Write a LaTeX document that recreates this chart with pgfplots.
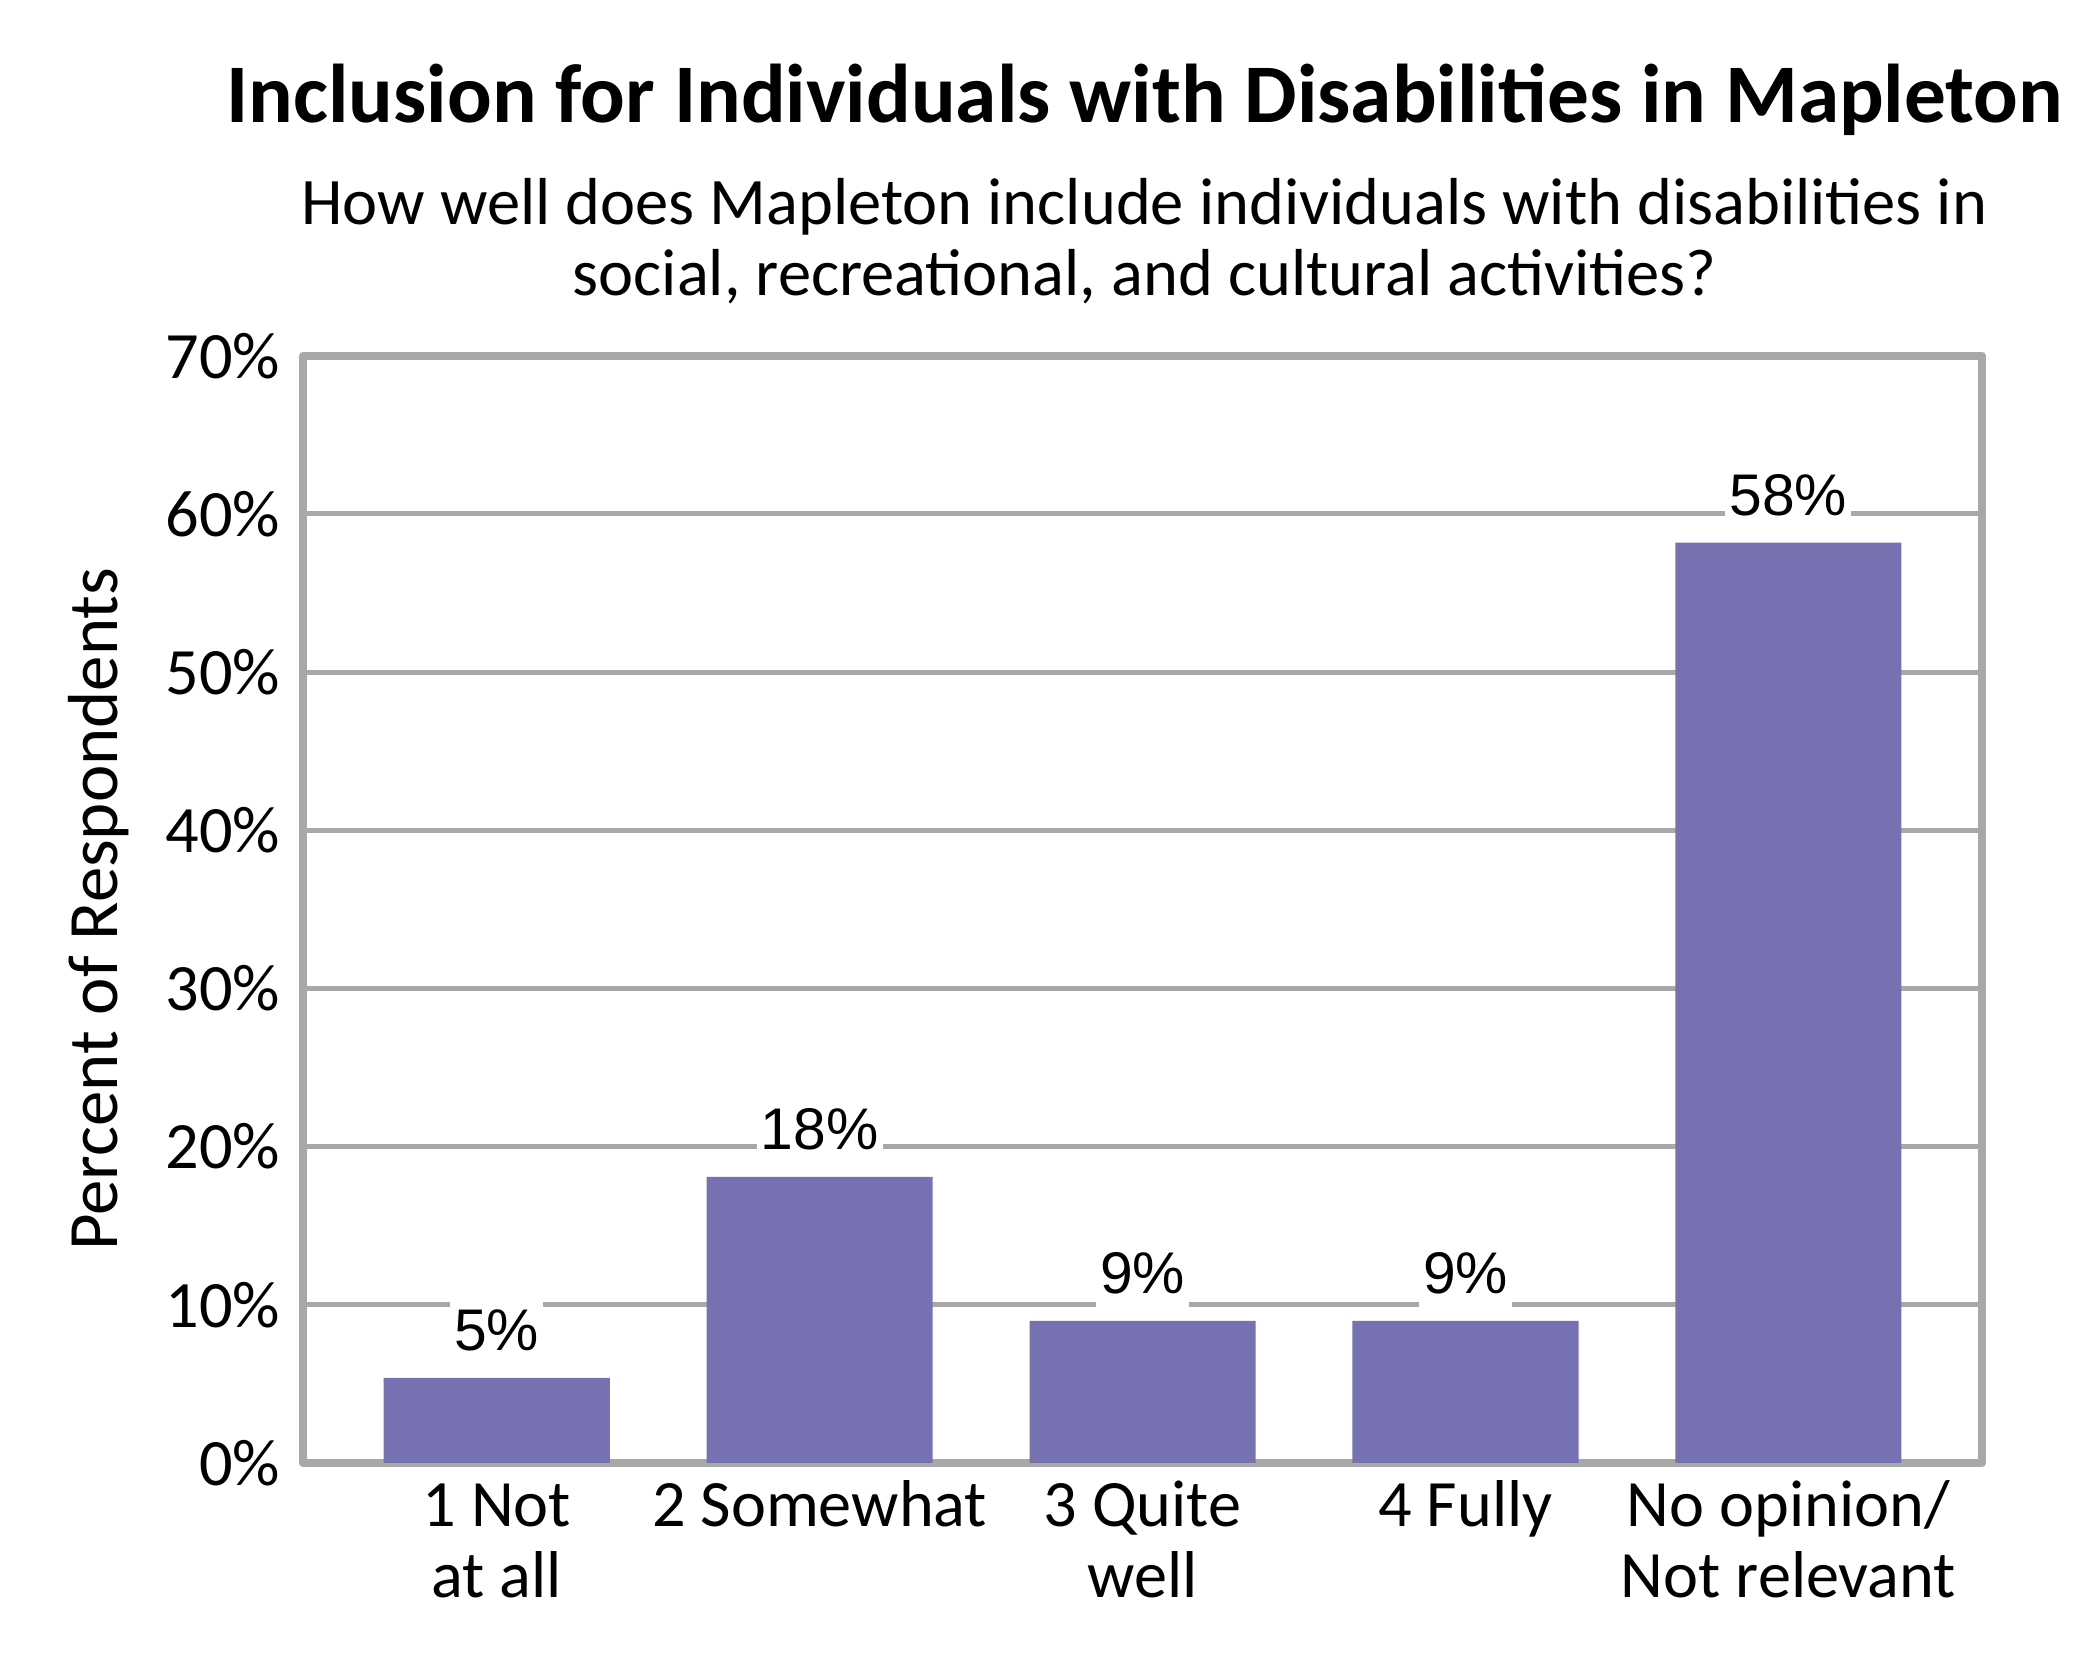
\documentclass[border=0pt]{standalone}
\usepackage{fontspec}
\setmainfont{Carlito}
\newfontfamily\labelfont{Liberation Sans}
\usepackage{pgfplots}
\pgfplotsset{compat=1.18}
\definecolor{barc}{RGB}{118,114,178}
\definecolor{gridc}{RGB}{168,168,168}
\begin{document}
\begin{tikzpicture}
\useasboundingbox (-72.72pt,-52.1pt) rectangle (431.28pt,351.1pt);
\begin{axis}[
  at={(0,0)}, anchor=south west,
  scale only axis, width=403pt, height=265.7pt,
  xmin=-0.6, xmax=4.6, ymin=0, ymax=70,
  ytick={0,10,20,30,40,50,60,70},
  yticklabels={0\%,10\%,20\%,30\%,40\%,50\%,60\%,70\%},
  xtick={0,1,2,3,4},
  xticklabels={{\rule{0pt}{12pt}1 Not\\at all},{\rule{0pt}{12pt}2 Somewhat},{\rule{0pt}{12pt}3 Quite\\well},{\rule{0pt}{12pt}4 Fully},{\rule{0pt}{12pt}No opinion/\\Not relevant}},
  major tick length=0pt,
  ymajorgrids, grid style={gridc, line width=1.2pt},
  axis line style={gridc, line width=2pt, line join=round},
  tick label style={font=\fontsize{15.9}{17}\selectfont},
  yticklabel style={anchor=east, inner sep=0pt, xshift=-5.3pt},
  xticklabel style={anchor=north, inner sep=0pt, yshift=-3pt, align=center},
  ylabel={Percent of Respondents},
  ylabel style={font=\fontsize{17}{19}\selectfont, at={(axis description cs:-0.1107,0.5)}, anchor=base},
  ybar, bar width=0.7,
  point meta=explicit symbolic,
  nodes near coords,
  nodes near coords style={font=\labelfont\fontsize{14.1}{16}\selectfont, fill=white, inner xsep=1pt, inner ysep=3.2pt, anchor=south, yshift=3pt, text=black},
]
\addplot[fill=barc, draw=none] coordinates {(0,5.38) [5\%] (1,18.09) [18\%] (2,8.98) [9\%] (3,8.98) [9\%] (4,58.19) [58\%]};
\end{axis}
\node[font=\bfseries\fontsize{20}{24}\selectfont, anchor=base] at (202pt,321.65pt) {Inclusion for Individuals with Disabilities in Mapleton};
\node[font=\fontsize{15.95}{17}\selectfont, anchor=base] at (202pt,297.1pt) {How well does Mapleton include individuals with disabilities in};
\node[font=\fontsize{15.95}{17}\selectfont, anchor=base] at (202pt,280.1pt) {social, recreational, and cultural activities?};
\end{tikzpicture}
\end{document}
